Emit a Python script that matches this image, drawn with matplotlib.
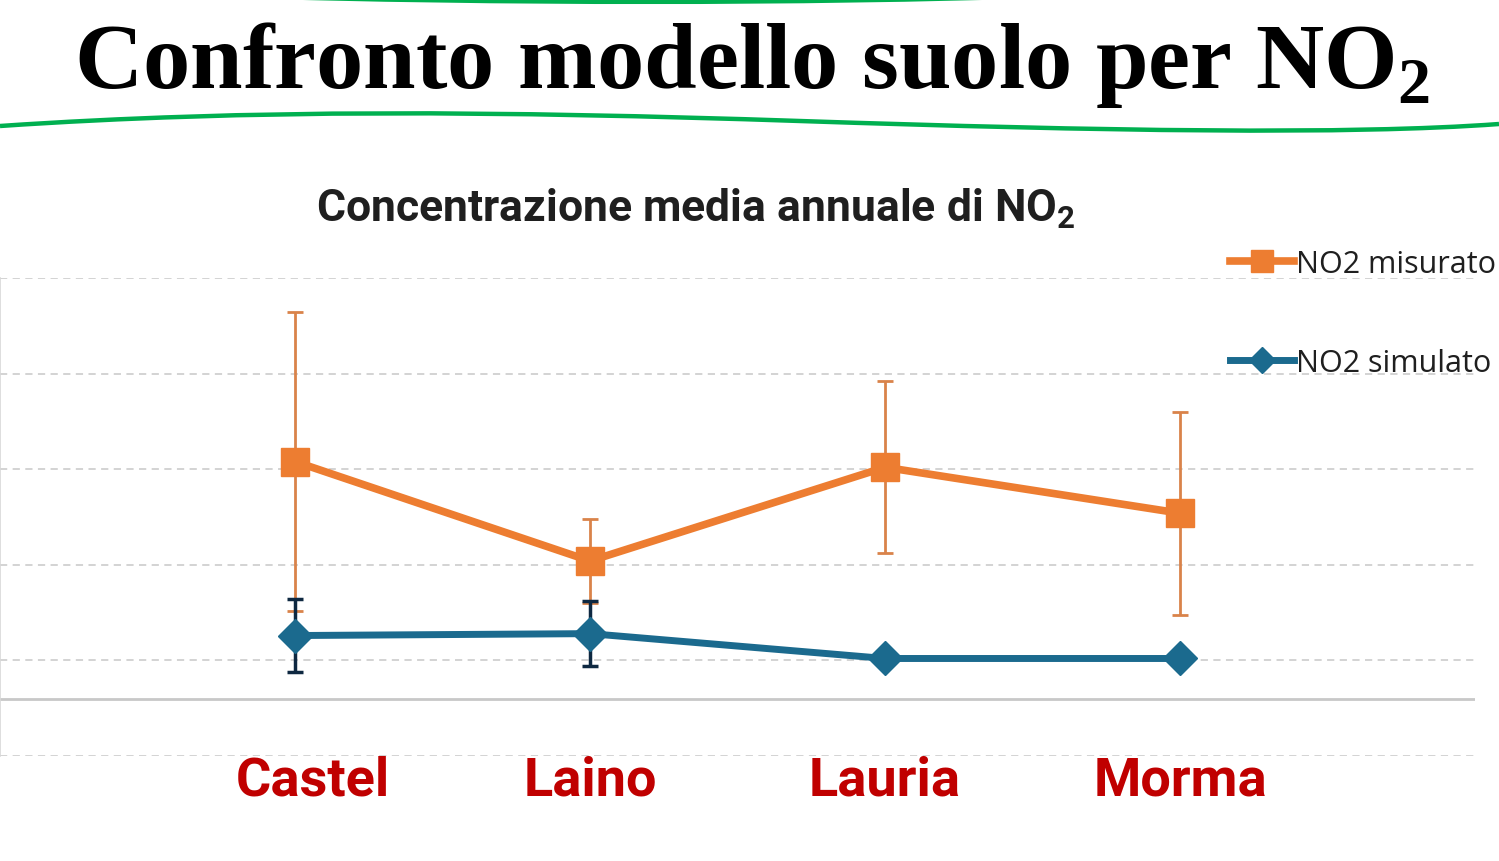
import matplotlib
matplotlib.use("Agg")
import matplotlib.pyplot as plt
from matplotlib.path import Path
from matplotlib.patches import PathPatch
from matplotlib.transforms import ScaledTranslation

plt.rcParams['mathtext.fontset'] = 'custom'
plt.rcParams['mathtext.rm'] = 'Liberation Serif:bold'
plt.rcParams['mathtext.bf'] = 'Roboto:bold'

# ---- data ----
categories = ["Castel", "Laino", "Lauria", "Morma"]
measured = [15.4, 10.2, 15.1, 12.7]
measured_err = [7.8, 2.2, 4.5, 5.3]
simulated = [6.3, 6.4, 5.1, 5.1]
simulated_err = [1.9, 1.7, 0.0, 0.0]
series_labels = ["NO2 misurato", "NO2 simulato"]
y_ticks = [0, 5, 10, 15, 20, 25]

W, H = 1499, 862
fig = plt.figure(figsize=(W / 100, H / 100), dpi=100)
fig.patch.set_facecolor("white")

# ---- decorative green curves ----
def fig_curve(pts, **kw):
    verts = [(x / W, 1 - y / H) for x, y in pts]
    codes = [Path.MOVETO] + [Path.CURVE4] * (len(verts) - 1)
    fig.patches.append(PathPatch(Path(verts, codes), transform=fig.transFigure,
                                 fill=False, **kw))

fig_curve([(0, 127), (250, 110), (500, 112), (800, 122),
           (1100, 132), (1350, 136), (1499, 125)], color="#00B050", lw=3.2)
fig_curve([(230, -3), (500, 5), (800, 5), (1050, -3)], color="#00B050", lw=3.0)

# ---- main title ----
fig.text(752 / W, 1 - 88 / H, r"Confronto modello suolo per NO$_\mathrm{2}$",
         ha="center", va="baseline", fontsize=68, fontweight="bold",
         family="Liberation Serif", color="black")

# ---- chart title ----
fig.text(696 / W, 1 - 222 / H, r"Concentrazione media annuale di NO$_\mathbf{2}$",
         ha="center", va="baseline", fontsize=32, fontweight="bold",
         family="Roboto", color="#1f1f1f")

# ---- axes ----
ax = fig.add_axes([0 / W, 1 - 757 / H, 1475 / W, (757 - 279) / H])
ax.set_facecolor("white")
x = list(range(len(categories)))

orange = "#ED7D31"
blue = "#1B6A8E"

eb1 = ax.errorbar(x, measured, yerr=measured_err, color=orange, lw=5.5,
                  marker="s", markersize=20, ecolor="#D9834A", elinewidth=2.0,
                  capsize=6, capthick=2.0, zorder=3, label=series_labels[0])
eb2 = ax.errorbar(x, simulated, yerr=simulated_err, color=blue, lw=5.0,
                  marker="D", markersize=17, ecolor="#0E2841", elinewidth=2.5,
                  capsize=6, capthick=2.5, zorder=4, label=series_labels[1])

ax.set_xlim(-1, 4)
ax.set_ylim(y_ticks[0], y_ticks[-1])
ax.set_yticks(y_ticks)
ax.yaxis.grid(True, color="#D0D0D0", ls=(0, (4, 3)), lw=1.3)
ax.set_axisbelow(True)
ax.axhline(2.98, color="#C8C8C8", lw=2.0, zorder=1)
for s in ["top", "right", "bottom"]:
    ax.spines[s].set_visible(False)
ax.spines["left"].set_color("#D8D8D8")
ax.spines["left"].set_linewidth(1.2)
ax.tick_params(axis="y", length=0, labelleft=False)
ax.tick_params(axis="x", length=0, pad=-1)
ax.set_xticks(x)
ax.set_xticklabels(categories, fontsize=39, fontweight="bold",
                   family="Roboto", color="#C00000")
lbl0 = ax.get_xticklabels()[0]
lbl0.set_transform(lbl0.get_transform() + ScaledTranslation(0.18, 0, fig.dpi_scale_trans))

# ---- legend ----
fig.legend(handles=[eb1[0], eb2[0]], labels=series_labels,
           loc="upper left", bbox_to_anchor=(1230 / W, 1 - 250 / H),
           frameon=False, prop={"family": "Open Sans", "size": 22},
           labelcolor="#1f1f1f", handlelength=2.1, handletextpad=0.05,
           labelspacing=2.25, borderpad=0, borderaxespad=0, markerscale=0.8)

fig.savefig("out.png", dpi=100, facecolor="white")
